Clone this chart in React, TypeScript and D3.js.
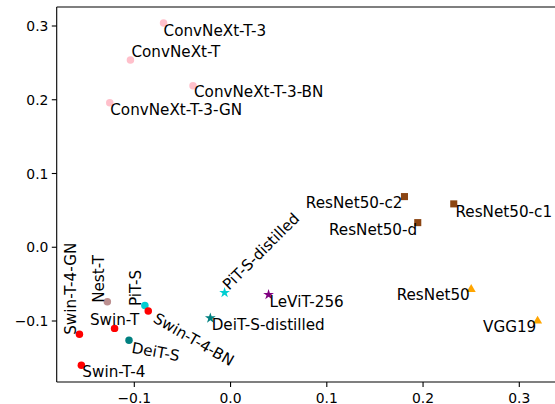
import React from "react";
import * as d3 from "d3";

// model names and their 2-D embedding coordinates
const names = [
  "ConvNeXt-T-3", "ConvNeXt-T", "ConvNeXt-T-3-BN", "ConvNeXt-T-3-GN",
  "Swin-T-4-GN", "Nest-T", "Swin-T", "PiT-S", "Swin-T-4-BN", "DeiT-S", "Swin-T-4",
  "PiT-S-distilled", "DeiT-S-distilled", "LeViT-256",
  "ResNet50-c2", "ResNet50-c1", "ResNet50-d", "ResNet50", "VGG19",
];
const xValues = [
  -0.0696, -0.104, -0.039, -0.1255,
  -0.157, -0.128, -0.1205, -0.089, -0.0855, -0.1055, -0.155,
  -0.0062, -0.021, 0.0395,
  0.1807, 0.2319, 0.1945, 0.25, 0.319,
];
const yValues = [
  0.304, 0.254, 0.219, 0.196,
  -0.118, -0.074, -0.110, -0.079, -0.0865, -0.126, -0.160,
  -0.0616, -0.096, -0.0643,
  0.0687, 0.0588, 0.0334, -0.0556, -0.0986,
];
const markers = [
  "circle", "circle", "circle", "circle",
  "circle", "circle", "circle", "circle", "circle", "circle", "circle",
  "star", "star", "star",
  "square", "square", "square", "triangle", "triangle",
];
const colors = [
  "#ffc0cb", "#ffc0cb", "#ffc0cb", "#ffc0cb",
  "#ff0000", "#bc8f8f", "#ff0000", "#00ced1", "#ff0000", "#008080", "#ff0000",
  "#00ced1", "#008080", "#800080",
  "#8b4513", "#8b4513", "#8b4513", "#ffa500", "#ffa500",
];
const xTicks = [-0.1, 0.0, 0.1, 0.2, 0.3];
const yTicks = [-0.1, 0.0, 0.1, 0.2, 0.3];

// label placement (pixel offsets from the marker, anchor, rotation)
const labelDx = [0, 1, 1, 0.5, -3, -3, 0, -3.5, 4, 2, 1, 4.5, 1.3, 1, -2, 1.7, -0.6, -1.4, -1.3];
const labelDy = [12.7, -3, 11.3, 12.3, 0.5, 1, -3.8, 0.5, 10.5, 12.5, 11.5, -2, 12, 12, 11.6, 12.7, 12.3, 11.7, 11.7];
const labelAnchor = [
  "start", "start", "start", "start",
  "start", "start", "middle", "start", "start", "start", "start",
  "start", "start", "start",
  "end", "start", "end", "end", "end",
];
const labelRotate = [0, 0, 0, 0, -90, -90, 0, -90, 30, 10, 0, -45, 0, 0, 0, 0, 0, 0, 0];

const width = 555, height = 404;
const font = "DejaVu Sans, sans-serif";

const symbolType: Record<string, d3.SymbolType> = {
  circle: d3.symbolCircle,
  star: d3.symbolStar,
  square: d3.symbolSquare,
  triangle: d3.symbolTriangle,
};
const symbolSize: Record<string, number> = { circle: 44, star: 36, square: 50, triangle: 36 };

export default function App() {
  const left = 56.7, top = 7, bottom = 382;
  const x = d3.scaleLinear().domain([-0.1, 0.3]).range([134.3, 519.3]);
  const y = d3.scaleLinear().domain([-0.1, 0.3]).range([321, 26]);
  const fmt = d3.format(".1f");
  const tickLabel = (v: number) => fmt(v).replace("-", "\u2212");

  return (
    <svg width={width} height={height} style={{ position: "absolute", left: 0, top: 0, background: "#fff" }}
      fontFamily={font}>
      {/* spines */}
      <line x1={left} x2={width + 10} y1={top} y2={top} stroke="#000" strokeWidth={1.1} />
      <line x1={left} x2={width + 10} y1={bottom} y2={bottom} stroke="#000" strokeWidth={1.1} />
      <line x1={left} x2={left} y1={top} y2={bottom} stroke="#000" strokeWidth={1.1} />

      {/* x axis */}
      {xTicks.map((t) => (
        <g key={"x" + t}>
          <line x1={x(t)} x2={x(t)} y1={bottom} y2={bottom + 4.9} stroke="#000" strokeWidth={1.1} />
          <text x={x(t)} y={bottom + 20.5} textAnchor="middle" fontSize={13.9}>{tickLabel(t)}</text>
        </g>
      ))}
      {/* y axis */}
      {yTicks.map((t) => (
        <g key={"y" + t}>
          <line x1={left - 4.9} x2={left} y1={y(t)} y2={y(t)} stroke="#000" strokeWidth={1.1} />
          <text x={left - 8.3} y={y(t) + 5} textAnchor="end" fontSize={13.9}>{tickLabel(t)}</text>
        </g>
      ))}

      {/* markers */}
      {names.map((n, i) => {
        const m = markers[i];
        const path = d3.symbol().type(symbolType[m]).size(symbolSize[m])();
        const dy = m === "triangle" ? 1 : 0;
        return (
          <path key={"m" + n} d={path || ""} fill={colors[i]}
            transform={`translate(${x(xValues[i])},${y(yValues[i]) + dy})`} />
        );
      })}

      {/* labels */}
      {names.map((n, i) => {
        const lx = x(xValues[i]) + labelDx[i];
        const ly = y(yValues[i]) + labelDy[i];
        return (
          <text key={"l" + n} x={lx} y={ly} fontSize={15.2} textAnchor={labelAnchor[i]}
            transform={labelRotate[i] ? `rotate(${labelRotate[i]},${lx},${ly})` : undefined}>
            {n}
          </text>
        );
      })}
    </svg>
  );
}
